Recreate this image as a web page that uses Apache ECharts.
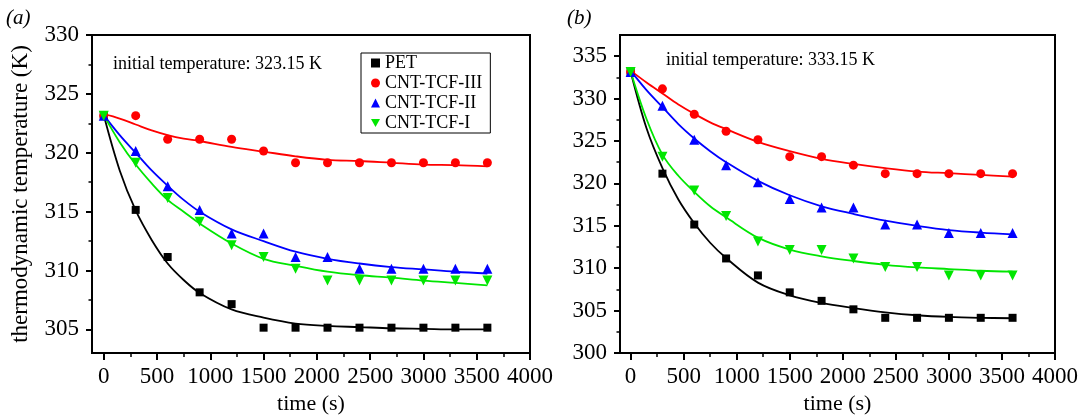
<!DOCTYPE html>
<html>
<head>
<meta charset="utf-8">
<script src="https://cdn.jsdelivr.net/npm/echarts@6.0.0/dist/echarts.min.js"></script>
<style>
html,body{margin:0;padding:0;background:#fff;}
#chart{width:1081px;height:420px;}
</style>
</head>
<body>
<div id="chart"></div>
<script>
// ---------- data ----------
const seriesNames = ['PET', 'CNT-TCF-III', 'CNT-TCF-II', 'CNT-TCF-I'];
const times = [0, 300, 600, 900, 1200, 1500, 1800, 2100, 2400, 2700, 3000, 3300, 3600];
const fitTimes = [0, 150, 300, 450, 600, 750, 900, 1200, 1500, 1800, 2100, 2400, 2700, 3000, 3300, 3600];

// panel (a): initial temperature 323.15 K
const aPET  = [323.15, 315.15, 311.15, 308.15, 307.15, 305.15, 305.15, 305.15, 305.15, 305.15, 305.15, 305.15, 305.15];
const aIII  = [323.15, 323.15, 321.15, 321.15, 321.15, 320.15, 319.15, 319.15, 319.15, 319.15, 319.15, 319.15, 319.15];
const aII   = [323.15, 320.15, 317.15, 315.15, 313.15, 313.15, 311.15, 311.15, 310.15, 310.15, 310.15, 310.15, 310.15];
const aI    = [323.15, 319.15, 316.15, 314.15, 312.15, 311.15, 310.15, 309.15, 309.15, 309.15, 309.15, 309.15, 309.15];
const aPETfit = [323.2, 318.5, 315.1, 312.6, 310.6, 309.2, 308.1, 306.7, 306.0, 305.5, 305.3, 305.2, 305.1, 305.05, 305.0, 305.0];
const aIIIfit = [323.3, 322.9, 322.4, 321.9, 321.5, 321.2, 321.0, 320.5, 320.1, 319.7, 319.4, 319.3, 319.15, 319.0, 318.95, 318.85];
const aIIfit  = [323.2, 321.5, 320.0, 318.5, 317.2, 316.0, 315.0, 313.5, 312.5, 311.6, 311.0, 310.6, 310.3, 310.1, 309.9, 309.75];
const aIfit   = [323.2, 320.9, 319.0, 317.4, 316.0, 315.0, 314.0, 312.3, 311.0, 310.4, 309.9, 309.6, 309.4, 309.15, 308.95, 308.75];

// panel (b): initial temperature 333.15 K
const bPET  = [333.15, 321.15, 315.15, 311.15, 309.15, 307.15, 306.15, 305.15, 304.15, 304.15, 304.15, 304.15, 304.15];
const bIII  = [333.15, 331.15, 328.15, 326.15, 325.15, 323.15, 323.15, 322.15, 321.15, 321.15, 321.15, 321.15, 321.15];
const bII   = [333.15, 329.15, 325.15, 322.15, 320.15, 318.15, 317.15, 317.15, 315.15, 315.15, 314.15, 314.15, 314.15];
const bI    = [333.15, 323.15, 319.15, 316.15, 313.15, 312.15, 312.15, 311.15, 310.15, 310.15, 309.15, 309.15, 309.15];
const bPETfit = [333.2, 326.5, 321.8, 318.1, 315.3, 313.0, 311.2, 308.3, 306.8, 305.9, 305.3, 304.8, 304.45, 304.25, 304.15, 304.1];
const bIIIfit = [333.3, 331.9, 330.6, 329.3, 328.2, 327.2, 326.4, 324.9, 323.8, 322.9, 322.3, 321.8, 321.4, 321.2, 321.0, 320.8];
const bIIfit  = [333.3, 331.0, 329.0, 327.0, 325.3, 323.8, 322.5, 320.3, 318.6, 317.3, 316.4, 315.6, 315.0, 314.5, 314.2, 314.0];
const bIfit   = [333.2, 327.6, 323.4, 320.9, 319.0, 317.3, 316.0, 313.6, 312.2, 311.4, 310.85, 310.4, 310.1, 309.9, 309.7, 309.6];

// tick values
const xMajor = [0, 500, 1000, 1500, 2000, 2500, 3000, 3500, 4000];
const xMinor = [250, 750, 1250, 1750, 2250, 2750, 3250, 3750];
const aYMajor = [305, 310, 315, 320, 325, 330];
const aYMinor = [307.5, 312.5, 317.5, 322.5, 327.5];
const bYMajor = [300, 305, 310, 315, 320, 325, 330, 335];
const bYMinor = [302.5, 307.5, 312.5, 317.5, 322.5, 327.5, 332.5];

const annotations = ['initial temperature: 323.15 K', 'initial temperature: 333.15 K'];
const panelLabels = ['(a)', '(b)'];

// ---------- styling ----------
const FONT = 'Liberation Serif';
const colors = ['#000000', '#ff0000', '#0000ff', '#00e600'];
const symbols = ['rect', 'circle', 'triangle', 'path://M0,0 L10,0 L5,9 Z'];
const symSizes = [8, 9, 10, 10];
const plain = v => String(v);

const panels = [
  {pts: [aPET, aIII, aII, aI], fits: [aPETfit, aIIIfit, aIIfit, aIfit], yMin: 303, yMax: 330, yMajor: aYMajor, yMinor: aYMinor, xMin: -110, grid: {left: 92, top: 35, width: 438, height: 318}},
  {pts: [bPET, bIII, bII, bI], fits: [bPETfit, bIIIfit, bIIfit, bIfit], yMin: 300, yMax: 337.5, yMajor: bYMajor, yMinor: bYMinor, xMin: -100, grid: {left: 620, top: 35, width: 436, height: 318}}
];

const grids = [], xAxes = [], yAxes = [], series = [];
panels.forEach((p, gi) => {
  grids.push(Object.assign({show: true, borderColor: '#000', borderWidth: 2, backgroundColor: 'transparent', containLabel: false}, p.grid));
  xAxes.push({
    gridIndex: gi, type: 'value', min: p.xMin, max: 4000, position: 'bottom',
    name: 'time (s)', nameLocation: 'middle', nameGap: 34,
    nameTextStyle: {fontFamily: FONT, fontSize: 22, color: '#000'},
    axisLine: {show: true, onZero: false, lineStyle: {color: '#000', width: 2}},
    axisTick: {show: true, inside: false, length: 7, customValues: xMajor, lineStyle: {color: '#000', width: 2}},
    axisLabel: {show: true, customValues: xMajor, formatter: plain, margin: 12, fontFamily: FONT, fontSize: 23, color: '#000'},
    splitLine: {show: false}
  });
  xAxes.push({
    gridIndex: gi, type: 'value', min: p.xMin, max: 4000, position: 'bottom',
    axisLine: {show: false, onZero: false},
    axisTick: {show: true, inside: false, length: 4, customValues: xMinor, lineStyle: {color: '#000', width: 1.5}},
    axisLabel: {show: false}, splitLine: {show: false}
  });
  yAxes.push({
    gridIndex: gi, type: 'value', min: p.yMin, max: p.yMax, position: 'left',
    name: gi === 0 ? 'thermodynamic temperature (K)' : '', nameLocation: 'middle', nameGap: 60,
    nameTextStyle: {fontFamily: FONT, fontSize: 23, color: '#000'},
    axisLine: {show: true, onZero: false, lineStyle: {color: '#000', width: 2}},
    axisTick: {show: true, inside: false, length: 6, customValues: p.yMajor, lineStyle: {color: '#000', width: 2}},
    axisLabel: {show: true, customValues: p.yMajor, formatter: plain, margin: 13, fontFamily: FONT, fontSize: 23, color: '#000'},
    splitLine: {show: false}
  });
  yAxes.push({
    gridIndex: gi, type: 'value', min: p.yMin, max: p.yMax, position: 'left',
    axisLine: {show: false, onZero: false},
    axisTick: {show: true, inside: false, length: 3.5, customValues: p.yMinor, lineStyle: {color: '#000', width: 1.5}},
    axisLabel: {show: false}, splitLine: {show: false}
  });
  const xi = gi * 2, yi = gi * 2;
  seriesNames.forEach((nm, si) => {
    series.push({
      name: nm, type: 'scatter', xAxisIndex: xi, yAxisIndex: yi,
      data: times.map((t, k) => [t, p.pts[si][k]]),
      symbol: symbols[si], symbolSize: symSizes[si],
      itemStyle: {color: colors[si], opacity: 1}, z: 5
    });
  });
  seriesNames.forEach((nm, si) => {
    series.push({
      name: nm, type: 'line', xAxisIndex: xi, yAxisIndex: yi,
      data: fitTimes.map((t, k) => [t, p.fits[si][k]]),
      smooth: 0.35, showSymbol: false, symbol: 'none', silent: true,
      itemStyle: {color: colors[si]},
      lineStyle: {color: colors[si], width: 1.8}, z: 2
    });
  });
});

const chart = echarts.init(document.getElementById('chart'), null, {renderer: 'canvas'});
chart.setOption({
  animation: false,
  backgroundColor: '#fff',
  color: colors,
  grid: grids,
  xAxis: xAxes,
  yAxis: yAxes,
  legend: {
    show: true, orient: 'vertical', left: 361, top: 53,
    data: seriesNames.map((nm, si) => ({name: nm, icon: symbols[si], itemStyle: {color: colors[si]}})),
    itemWidth: 9, itemHeight: 9, itemGap: 2,
    padding: [1, 8, 1, 10],
    borderColor: '#000', borderWidth: 1, backgroundColor: '#fff',
    textStyle: {fontFamily: FONT, fontSize: 18, color: '#000'},
    selectedMode: false
  },
  graphic: [
    {type: 'text', left: 113, top: 55, style: {text: annotations[0], font: '18px "Liberation Serif"', fill: '#000'}},
    {type: 'text', left: 666, top: 51, style: {text: annotations[1], font: '18px "Liberation Serif"', fill: '#000'}},
    {type: 'text', left: 6, top: 8, style: {text: panelLabels[0], font: 'italic 21px "Liberation Serif"', fill: '#000'}},
    {type: 'text', left: 567, top: 8, style: {text: panelLabels[1], font: 'italic 21px "Liberation Serif"', fill: '#000'}}
  ],
  series: series
});
</script>
</body>
</html>
